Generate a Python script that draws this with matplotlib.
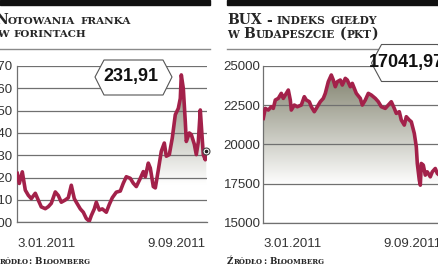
import re
import numpy as np
import matplotlib
matplotlib.use("Agg")
import matplotlib.pyplot as plt
import matplotlib.transforms as mtransforms
from matplotlib.colors import LinearSegmentedColormap
from matplotlib.patches import Polygon, Rectangle
from matplotlib.lines import Line2D

# --- dane (dni sesyjne od 3.01.2011) ---
chf_days = [0, 2, 5, 8, 11, 14, 18, 21, 24, 28, 31, 34, 38, 41, 44, 48, 51, 54,
            57, 59, 63, 66, 69, 72, 74, 77, 79, 82, 85, 89, 92, 95, 99, 103, 106,
            109, 113, 116, 119, 123, 126, 128, 131, 133, 136, 138, 141, 144, 147,
            149, 152, 155, 158, 161, 163, 164, 166, 168, 169, 172, 174, 177, 179,
            181, 183, 184, 186, 188, 189]
chf_values = [221.9, 217.4, 222.6, 214.4, 212.1, 210.6, 213.0, 209.9, 206.9, 206.1,
              207.0, 208.5, 213.6, 212.0, 209.0, 210.0, 211.0, 216.6, 210.6, 209.0,
              206.0, 204.5, 201.7, 200.5, 203.0, 206.0, 209.0, 205.5, 206.0, 204.5,
              208.0, 211.0, 213.5, 214.0, 217.5, 220.4, 219.7, 217.5, 216.0, 219.7,
              222.7, 220.4, 226.5, 224.3, 216.0, 215.4, 223.4, 231.8, 235.5, 229.6,
              230.3, 237.8, 248.2, 251.0, 255.5, 266.0, 260.0, 245.0, 236.2, 240.0,
              239.3, 235.0, 230.3, 236.0, 250.3, 243.5, 230.3, 228.0, 231.91]

bux_days = [0, 2, 5, 8, 10, 12, 15, 18, 20, 22, 25, 27, 28, 31, 34, 38, 41, 43, 46,
            48, 51, 53, 57, 60, 62, 65, 68, 70, 72, 74, 77, 79, 82, 84, 87, 89, 93,
            97, 99, 102, 105, 108, 112, 115, 118, 122, 125, 128, 131, 133, 136, 138,
            141, 143, 146, 148, 151, 153, 154, 156, 157, 158, 160, 162, 164, 167,
            169, 172, 174, 176, 178, 181, 184, 188]
bux_values = [21662, 22300, 22194, 22406, 22300, 22832, 22938, 23257, 22938, 23150,
              23469, 22832, 22194, 22513, 22406, 22513, 23044, 22832, 22725, 22406,
              22088, 22300, 22725, 22938, 23257, 24000, 24426, 24107, 23682, 24000,
              24107, 23788, 24213, 24107, 23682, 23894, 23257, 22938, 22513, 22832,
              23257, 23150, 22938, 22725, 22406, 22300, 22513, 22725, 22300, 21981,
              22088, 21556, 21237, 21769, 21556, 21450, 20706, 19855, 18792, 17730,
              17410, 18792, 18686, 18049, 18260, 17942, 18260, 18473, 18154, 18049,
              17800, 17500, 17200, 17041.97]

chf_ticks = [200, 210, 220, 230, 240, 250, 260, 270]
bux_ticks = [15000, 17500, 20000, 22500, 25000]
date_labels = ["3.01.2011", "9.09.2011"]
chf_last = "231,91"
bux_last = "17041,97"
chf_title = ["Notowania franka", "w forintach"]
bux_title = ["BUX - indeks giełdy", "w Budapeszcie (pkt)"]
source = "Źródło: Bloomberg"

W, H = 439, 268
LINE = "#a3214a"
GRID = "#707070"
TEXT = "#262626"
NUM_FONT = ["Liberation Sans Narrow", "Liberation Sans", "DejaVu Sans"]
SERIF = ["DejaVu Serif"]

fig = plt.figure(figsize=(W / 100, H / 100), dpi=100)
renderer = fig.canvas.get_renderer()


def fx(x):
    return x / W


def fy(y):
    return 1 - y / H


def small_caps(x, y, text, big, small):
    # imitacja kapitalików: wielkie litery duże, małe -> małe kapitaliki
    for tok in re.findall(r"\s+|[^\s]+", text):
        if tok.isspace():
            x += 0.32 * big * 100 / 72
            continue
        for part in re.findall(r"[a-ząćęłńóśźż]+|[^a-ząćęłńóśźż]+", tok):
            s = small if part.islower() else big
            t = fig.text(fx(x), fy(y), part.upper(), fontsize=s, family=SERIF,
                         weight="bold", color=TEXT, ha="left", va="baseline")
            x += t.get_window_extent(renderer).width + 0.3
    return x


cmap = LinearSegmentedColormap.from_list(
    "fill", [(0, "white"), (0.24, "white"), (1, "#7b7c67")])


def make_panel(rect, days, values, ticks, xmax, pad):
    ax = fig.add_axes(rect)
    ax.set_xlim(0, xmax)
    ax.set_ylim(ticks[0], ticks[-1])
    ax.set_yticks(ticks)
    ax.set_xticks([])
    ax.set_axisbelow(False)
    ax.yaxis.grid(True, color=GRID, lw=0.9)
    for s in ["top", "right"]:
        ax.spines[s].set_visible(False)
    for s in ["left", "bottom"]:
        ax.spines[s].set_color(GRID)
        ax.spines[s].set_linewidth(0.9)
    ax.tick_params(axis="y", length=0, pad=pad, labelsize=9.5, labelcolor="#333333")
    for lab in ax.get_yticklabels():
        lab.set_family(NUM_FONT)
    ax.patch.set_alpha(0)

    poly = ax.fill_between(days, values, ticks[0], facecolor="none", edgecolor="none")
    grad = np.linspace(0, 1, 256).reshape(-1, 1)
    im = ax.imshow(grad, extent=(0, xmax, ticks[0], ticks[-1]), origin="lower",
                   aspect="auto", cmap=cmap, zorder=1)
    im.set_clip_path(poly.get_paths()[0], transform=ax.transData)
    ax.plot(days, values, color=LINE, lw=2.6, solid_joinstyle="round", zorder=3)
    ax.set_xlim(0, xmax)
    ax.set_ylim(ticks[0], ticks[-1])
    return ax


ax1 = make_panel([fx(17.3), fy(222.3), 189.4 / W, 156.3 / H],
                 chf_days, chf_values, chf_ticks, 189.4, 3.3)
ax2 = make_panel([fx(263.3), fy(223), 188.7 / W, 157 / H],
                 bux_days, bux_values, bux_ticks, 188.7, 1.9)

# kropka na koncu notowan franka
ax1.plot(chf_days[-1], chf_values[-1], "o", ms=5, mfc="white", mec="#444444",
         mew=0.8, zorder=4, clip_on=False)
ax1.plot(chf_days[-1], chf_values[-1], "o", ms=1.6, color="#222222", zorder=5,
         clip_on=False)

# daty pod osia
for ax, x_end in [(ax1, 188.0), (ax2, 178.5)]:
    tr = mtransforms.blended_transform_factory(ax.transData, fig.transFigure)
    ax.text(0.5, fy(244), date_labels[0], transform=tr, ha="left", va="center",
            fontsize=9.5, family=NUM_FONT, color="#333333")
    ax.text(x_end, fy(244), date_labels[1], transform=tr, ha="right", va="center",
            fontsize=9.5, family=NUM_FONT, color="#333333")

# belki i linie naglowkow
for x0, x1 in [(0, 210), (227, 439)]:
    fig.patches.append(Rectangle((fx(x0), fy(5)), (x1 - x0) / W, 5 / H,
                                 transform=fig.transFigure, color="#111111"))
    fig.lines.append(Line2D([fx(x0), fx(x1)], [fy(48.5), fy(48.5)],
                            transform=fig.transFigure, color="#8a8a8a", lw=1.0))

# tytuly
small_caps(-5, 24, chf_title[0], 10, 7.5)
small_caps(-3, 37, chf_title[1], 10, 7.5)
small_caps(227, 24.5, bux_title[0], 10, 7.6)
small_caps(227, 37.5, bux_title[1], 10, 7.6)

# zrodlo
small_caps(-7.5, 264, source, 6.2, 5.0)
small_caps(227, 264, source, 6.2, 5.0)

# ramki z ostatnia wartoscia
hexes = [
    ([(95, 77), (104, 60), (163, 60), (172, 77), (163, 95), (104, 95)], (131, 77), chf_last),
    ([(371.5, 63), (381.5, 44.5), (438, 44.5), (448, 63), (438, 81.5), (381.5, 81.5)],
     (406, 63), bux_last),
]
for pts, (tx, ty), label in hexes:
    fig.patches.append(Polygon([(fx(a), fy(b)) for a, b in pts], closed=True,
                               transform=fig.transFigure, facecolor="white",
                               edgecolor="#555555", lw=0.8, zorder=5))
    fig.text(fx(tx), fy(ty), label, fontsize=13, weight="bold", family=NUM_FONT,
             color="#111111", ha="center", va="center", zorder=6)

fig.savefig("out.png", dpi=100)
